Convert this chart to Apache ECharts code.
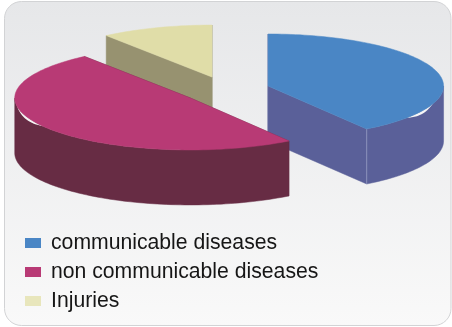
<!DOCTYPE html>
<html>
<head>
<meta charset="utf-8">
<style>html,body{margin:0;padding:0;background:#fff}#chart{width:452px;height:327px}</style>
<script src="https://cdn.jsdelivr.net/npm/echarts@6/dist/echarts.min.js"></script>
</head>
<body>
<div id="chart"></div>
<script>
// Share of the burden of disease, in percent
const categories = ['communicable diseases', 'non communicable diseases', 'Injuries'];
const shares = [40.5, 49.2, 10.3];
const topColors = ['#4a86c5', '#b83a75', '#e0dda8'];
const wallColors = ['#5a6099', '#672c44', '#979270'];
const edgeColors = ['#8a90bc', '#7d4a60', '#a8a486'];
const legendColors = ['#4a86c5', '#b83a75', '#e8e6bc'];
// Slices overlap, so they are painted back to front
const paintOrder = [2, 0, 1];
// Small light crescents where the rim pulls away from the top face (degrees clockwise from north)
const rimGaps = [[110, 128], [237, 261], null];

// Pie geometry in pixels
const pie = { cx: 226, cy: 90, rx: 175.5, ry: 52, depth: 55, explode: 44, tilt: 0.31 };

const total = shares.reduce((a, b) => a + b, 0);

function sliceStart(index) {
  let start = 0;
  for (let i = 0; i < index; i++) start += shares[i] / total * 360;
  return start;
}

function rad(deg) { return deg * Math.PI / 180; }

// Builds the extruded wedge of one category from its value
function renderSlice(index, value) {
  const startDeg = sliceStart(index);
  const endDeg = startDeg + value / total * 360;
  const mid = rad((startDeg + endDeg) / 2);
  const cx = pie.cx + pie.explode * Math.sin(mid);
  const cy = pie.cy - pie.explode * pie.tilt * Math.cos(mid);
  const at = deg => [cx + pie.rx * Math.sin(rad(deg)), cy - pie.ry * Math.cos(rad(deg))];
  const down = p => [p[0], p[1] + pie.depth];
  const arc = (a, b) => {
    const pts = [];
    for (let d = a; d < b; d += 1.5) pts.push(at(d));
    pts.push(at(b));
    return pts;
  };
  const poly = (points, fill, z2) => ({
    type: 'polygon', z2,
    shape: { points },
    style: { fill, stroke: fill, lineWidth: 0.5 }
  });
  const children = [];
  const center = [cx, cy];
  [startDeg, endDeg].forEach(d => {
    const p = at(d);
    children.push(poly([center, p, down(p), down(center)], wallColors[index], 1));
  });
  // The rim is visible only on the half of the ellipse facing the viewer
  const rimStart = Math.max(startDeg, 90);
  const rimEnd = Math.min(endDeg, 270);
  if (rimEnd > rimStart) {
    const rim = arc(rimStart, rimEnd);
    children.push(poly(rim.concat(rim.map(down).reverse()), wallColors[index], 2));
    if (startDeg < 90 || endDeg < 270) {
      const corner = at(endDeg);
      children.push({
        type: 'line', z2: 3,
        shape: { x1: corner[0], y1: corner[1], x2: corner[0], y2: corner[1] + pie.depth },
        style: { stroke: edgeColors[index], lineWidth: 1 }
      });
    }
  }
  const gap = rimGaps[index];
  if (gap) {
    const edge = arc(gap[0], gap[1]);
    const n = edge.length - 1;
    const lower = edge.map((p, i) => [p[0], p[1] + 3 * Math.sin(Math.PI * i / n)]);
    children.push({
      type: 'polygon', z2: 3,
      shape: { points: edge.concat(lower.reverse()) },
      style: { fill: '#f6f6f6' }
    });
  }
  children.push(poly([center].concat(arc(startDeg, endDeg)), topColors[index], 4));
  return { type: 'group', children };
}

const chart = echarts.init(document.getElementById('chart'), null, { renderer: 'canvas' });

chart.setOption({
  animation: false,
  tooltip: { show: false },
  graphic: [{
    type: 'rect', z: -10, silent: true,
    shape: { x: 4.5, y: 1.5, width: 446.5, height: 324, r: 17 },
    style: {
      stroke: '#d2d3d5', lineWidth: 1,
      fill: new echarts.graphic.LinearGradient(0, 0, 0, 1, [
        { offset: 0, color: '#e6e7e9' },
        { offset: 1, color: '#f9f9f9' }
      ])
    }
  }],
  legend: {
    orient: 'vertical', left: 20, top: 227,
    icon: 'rect', itemWidth: 16, itemHeight: 10, itemGap: 7,
    selectedMode: false,
    data: categories.map((name, i) => ({ name, itemStyle: { color: legendColors[i] } })),
    textStyle: {
      fontFamily: '"Liberation Sans", Arial, sans-serif',
      fontSize: 21.2, color: '#161616', lineHeight: 22,
      padding: [0, 0, 0, 5]
    }
  },
  series: categories.map((name, i) => ({
    type: 'custom',
    name,
    coordinateSystem: 'none',
    silent: true,
    z: 2 + paintOrder.indexOf(i),
    itemStyle: { color: topColors[i] },
    data: [[shares[i]]],
    renderItem: (params, api) => renderSlice(i, api.value(0))
  }))
});
</script>
</body>
</html>
